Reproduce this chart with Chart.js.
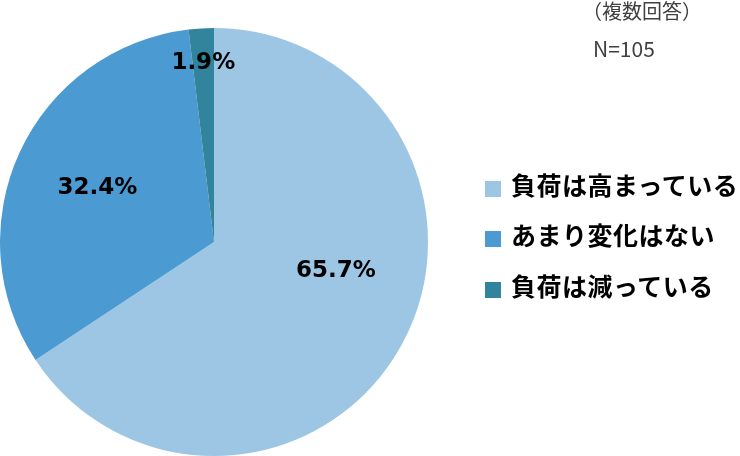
<!DOCTYPE html>
<html><head><meta charset="utf-8">
<script src="https://cdn.jsdelivr.net/npm/chart.js@4/dist/chart.umd.min.js"></script>
<style>
html,body{margin:0;padding:0;background:#fff;}
#wrap{position:relative;width:740px;height:456px;overflow:hidden;}
canvas{position:absolute;left:0;top:0;}
.note{position:absolute;font-family:"Noto Sans CJK JP",sans-serif;color:#404040;line-height:1;white-space:nowrap;}
#legend{position:absolute;left:485px;top:158.5px;font-family:"Noto Sans CJK JP",sans-serif;}
.li{display:flex;align-items:center;height:50.5px;font-weight:bold;font-size:25px;letter-spacing:0.5px;color:#000;white-space:nowrap;}
.sw{width:16px;height:16px;margin-right:10px;position:relative;top:5px;}
</style></head>
<body><div id="wrap"><canvas id="c" width="740" height="456"></canvas>
<div class="note" style="left:582px;top:1px;font-size:20px;">（複数回答）</div>
<div class="note" style="left:593px;top:38px;font-size:21px;">N=105</div>
<div id="legend"></div></div>
<script>
const categories = ["負荷は高まっている","あまり変化はない","負荷は減っている"];
const values = [65.7, 32.4, 1.9];
const colors = ["#9DC6E5","#4B9BD2","#31849B"];
const labelRadius = [0.585, 0.6, 0.84];
const labelAngleShift = [-15, 0, 0];

const leg = document.getElementById('legend');
categories.forEach((c,i)=>{
  const d=document.createElement('div');d.className='li';
  d.innerHTML='<span class="sw" style="background:'+colors[i]+'"></span><span>'+c+'</span>';
  leg.appendChild(d);
});

const labelPlugin = {
  id:'lbl',
  afterDatasetsDraw(chart){
    const ctx=chart.ctx;
    const meta=chart.getDatasetMeta(0);
    ctx.save();
    ctx.font='bold 23px "DejaVu Sans", sans-serif';
    ctx.fillStyle='#000';ctx.textAlign='center';ctx.textBaseline='middle';
    meta.data.forEach((arc,i)=>{
      const p=arc.getProps(['x','y','startAngle','endAngle','outerRadius'],true);
      const a=(p.startAngle+p.endAngle)/2 + labelAngleShift[i]*Math.PI/180;
      const r=p.outerRadius*labelRadius[i];
      ctx.fillText(values[i].toFixed(1)+'%', p.x+r*Math.cos(a), p.y+r*Math.sin(a));
    });
    ctx.restore();
  }
};

new Chart(document.getElementById('c'),{
  type:'pie',
  data:{labels:categories,datasets:[{data:values,backgroundColor:colors,borderWidth:0}]},
  options:{
    responsive:false,animation:false,
    layout:{padding:{top:28,bottom:0,left:0,right:312}},
    plugins:{legend:{display:false},tooltip:{enabled:false}}
  },
  plugins:[labelPlugin]
});
</script></body></html>
